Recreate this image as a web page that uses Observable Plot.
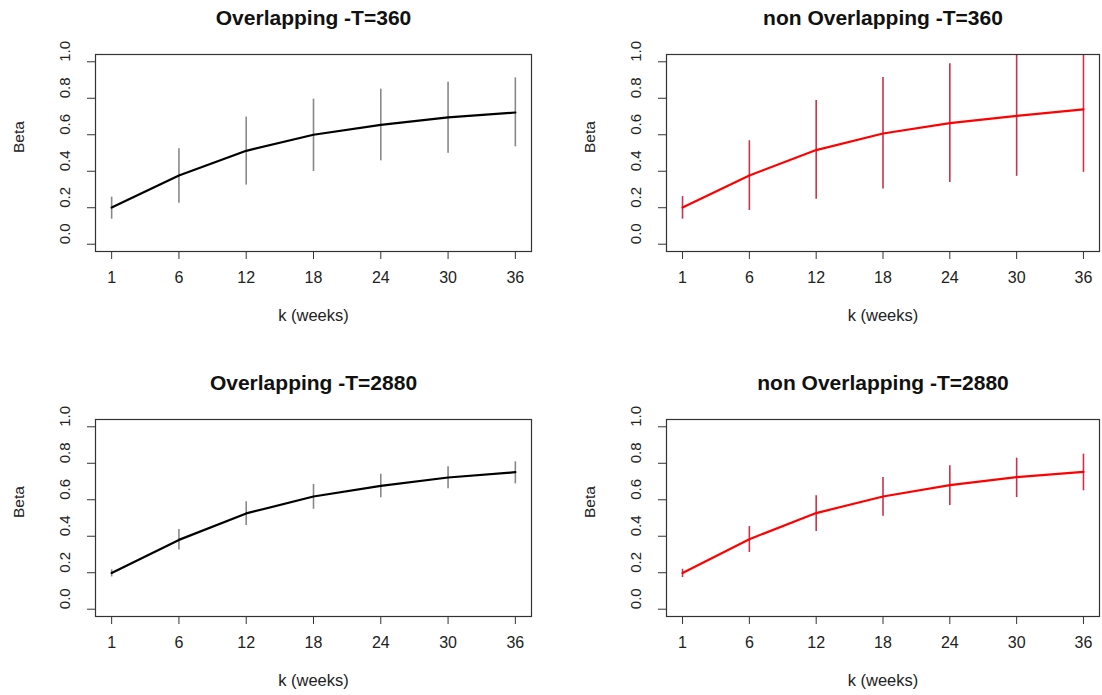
<!DOCTYPE html>
<html>
<head>
<meta charset="utf-8">
<script src="https://cdn.jsdelivr.net/npm/d3@7"></script>
<script src="https://cdn.jsdelivr.net/npm/@observablehq/plot@0.6"></script>
<style>
  html, body { margin: 0; padding: 0; background: #ffffff; }
  #root { position: relative; width: 1102px; height: 695px; background: #ffffff; overflow: hidden; }
  .panel { position: absolute; }
</style>
</head>
<body>
<div id="root"></div>
<script>
// ---- data ----
const kLabels = [1, 6, 12, 18, 24, 30, 36];
const kIndex = [1, 2, 3, 4, 5, 6, 7];
const yTicks = [0, 0.2, 0.4, 0.6, 0.8, 1.0];

const overlap360Beta = [0.201, 0.377, 0.512, 0.600, 0.654, 0.695, 0.722];
const overlap360Lo   = [0.137, 0.225, 0.324, 0.399, 0.457, 0.499, 0.534];
const overlap360Hi   = [0.258, 0.523, 0.697, 0.795, 0.850, 0.888, 0.912];

const nonOverlap360Beta = [0.201, 0.377, 0.516, 0.607, 0.664, 0.704, 0.739];
const nonOverlap360Lo   = [0.137, 0.185, 0.247, 0.302, 0.338, 0.372, 0.394];
const nonOverlap360Hi   = [0.261, 0.567, 0.788, 0.914, 0.989, 1.060, 1.090];

const overlap2880Beta = [0.199, 0.380, 0.525, 0.618, 0.676, 0.722, 0.751];
const overlap2880Lo   = [0.177, 0.325, 0.459, 0.548, 0.611, 0.660, 0.687];
const overlap2880Hi   = [0.216, 0.437, 0.589, 0.684, 0.740, 0.781, 0.808];

const nonOverlap2880Beta = [0.199, 0.384, 0.527, 0.618, 0.680, 0.724, 0.753];
const nonOverlap2880Lo   = [0.174, 0.311, 0.426, 0.510, 0.569, 0.612, 0.649];
const nonOverlap2880Hi   = [0.219, 0.453, 0.622, 0.722, 0.786, 0.828, 0.850];

const titles = ["Overlapping -T=360", "non Overlapping -T=360", "Overlapping -T=2880", "non Overlapping -T=2880"];
const xLabel = "k (weeks)";
const yLabel = "Beta";

// ---- build ----
function rows(beta, lo, hi) {
  return kIndex.map((i, j) => ({i, k: kLabels[j], beta: beta[j], lo: lo[j], hi: hi[j]}));
}

const FONT = "'Liberation Sans', Arial, Helvetica, sans-serif";
const TXT = "#222";

function panel({title, data, lineColor, barColor, left, top, width, height, mLeft, mRight, mTop, mBottom}) {
  const chart = Plot.plot({
    width, height,
    marginLeft: mLeft, marginRight: mRight, marginTop: mTop, marginBottom: mBottom,
    style: {background: "#ffffff", fontFamily: FONT, fontSize: "16px", color: TXT, overflow: "visible"},
    x: {type: "linear", domain: [0.76, 7.24]},
    y: {type: "linear", domain: [-0.04, 1.04]},
    marks: [
      Plot.axisX({ticks: kIndex, tickFormat: i => String(kLabels[i - 1]), tickSize: 8, tickPadding: 12, stroke: "#333", fill: TXT, fontSize: 16, label: null}),
      Plot.axisY({ticks: yTicks, tickSize: 8, tickFormat: () => "", stroke: "#333", label: null}),
      Plot.text(yTicks, {y: d => d, text: d => d.toFixed(1), frameAnchor: "left", dx: -30, rotate: -90, lineAnchor: "middle", fontSize: 15, fill: TXT}),
      Plot.ruleX(data, {x: "i", y1: "lo", y2: "hi", stroke: barColor, strokeWidth: 1.6, clip: true}),
      Plot.line(data, {x: "i", y: "beta", stroke: lineColor, strokeWidth: 2.2}),
      Plot.frame({stroke: "#333", strokeWidth: 1.2}),
      Plot.text([title], {frameAnchor: "top", dy: -36, lineAnchor: "middle", fontSize: 21, fontWeight: "bold", fill: "#111"}),
      Plot.text([xLabel], {frameAnchor: "bottom", dy: 64, lineAnchor: "middle", fontSize: 16.5, fill: TXT}),
      Plot.text([yLabel], {frameAnchor: "left", dx: -76, rotate: -90, lineAnchor: "middle", fontSize: 15.5, fill: TXT})
    ]
  });
  const div = document.createElement("div");
  div.className = "panel";
  div.style.left = left + "px";
  div.style.top = top + "px";
  div.appendChild(chart);
  document.getElementById("root").appendChild(div);
}

panel({title: titles[0], data: rows(overlap360Beta, overlap360Lo, overlap360Hi),
  lineColor: "#000000", barColor: "#888888",
  left: 0, top: 0, width: 551, height: 347, mLeft: 95, mRight: 20, mTop: 54, mBottom: 96});
panel({title: titles[1], data: rows(nonOverlap360Beta, nonOverlap360Lo, nonOverlap360Hi),
  lineColor: "#ff0000", barColor: "#c8334a",
  left: 551, top: 0, width: 551, height: 347, mLeft: 115, mRight: 3, mTop: 54, mBottom: 96});
panel({title: titles[2], data: rows(overlap2880Beta, overlap2880Lo, overlap2880Hi),
  lineColor: "#000000", barColor: "#888888",
  left: 0, top: 347, width: 551, height: 348, mLeft: 95, mRight: 20, mTop: 72, mBottom: 79});
panel({title: titles[3], data: rows(nonOverlap2880Beta, nonOverlap2880Lo, nonOverlap2880Hi),
  lineColor: "#ff0000", barColor: "#c8334a",
  left: 551, top: 347, width: 551, height: 348, mLeft: 115, mRight: 3, mTop: 72, mBottom: 79});
</script>
</body>
</html>
